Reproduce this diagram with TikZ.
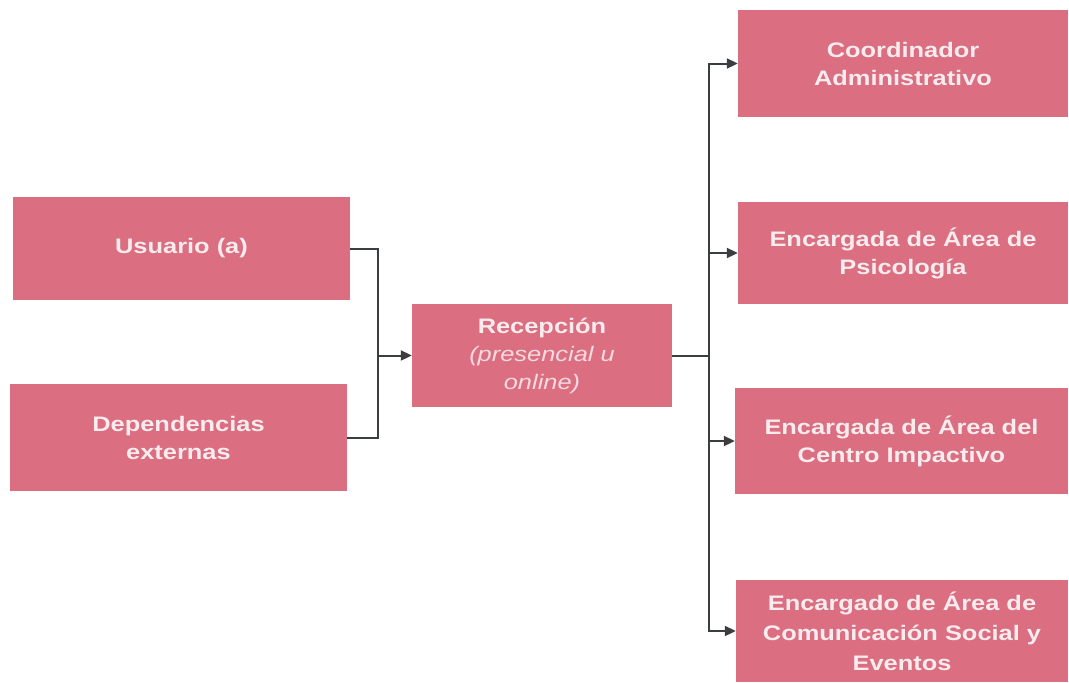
\documentclass[tikz,border=0pt]{standalone}
\usepackage{fontspec}
\usetikzlibrary{arrows.meta}
\newfontfamily\boxfont[FakeStretch=1.21]{Liberation Sans}
\definecolor{boxpink}{RGB}{219,110,128}
\definecolor{boxtext}{RGB}{248,236,238}
\definecolor{subtext}{RGB}{246,218,224}
\definecolor{linegray}{RGB}{58,62,64}
\newcommand{\mysubline}[1]{\textcolor{subtext}{\mdseries\itshape #1}}
\tikzset{
  pinkbox/.style={fill=boxpink, draw=none, inner sep=0pt, align=center,
    text=boxtext, font=\boxfont\bfseries\fontsize{21}{28}\selectfont},
  conn/.style={draw=linegray, line width=2pt},
  arr/.style={conn, -{Triangle[length=11pt,width=10pt]}}
}
\begin{document}
\begin{tikzpicture}[x=1pt,y=-1pt]
\useasboundingbox[fill=white] (0,0) rectangle (1069,683);
\node[pinkbox, minimum width=337pt, minimum height=103pt] (usu) at (181.5,248.5) {Usuario (a)};
\node[pinkbox, minimum width=337pt, minimum height=107pt] (dep) at (178.5,437.5) {Dependencias\\externas};
\node[pinkbox, minimum width=260pt, minimum height=103pt] (rec) at (542,355.5) {Recepción\\\mysubline{(presencial u}\\\mysubline{online)}};
\node[pinkbox, minimum width=330pt, minimum height=107pt] (coo) at (903,63.5) {Coordinador\\Administrativo};
\node[pinkbox, minimum width=330pt, minimum height=102pt] (psi) at (903,253) {Encargada de Área de\\Psicología};
\node[pinkbox, minimum width=333pt, minimum height=106pt] (cen) at (901.5,441) {Encargada de Área del\\Centro Impactivo};
\node[pinkbox, minimum width=332pt, minimum height=102pt, font=\boxfont\bfseries\fontsize{21}{30}\selectfont] (com) at (902,631) {Encargado de Área de\\Comunicación Social y\\Eventos};
\coordinate (j1) at (378,355.5);
\coordinate (j2) at (709,355.5);
\draw[conn] (usu.east) -| (j1);
\draw[conn] (dep.east) -| (j1);
\draw[arr] (j1) -- (rec.west);
\draw[conn] (rec.east) -- (j2);
\draw[arr] (j2) |- (coo.west);
\draw[arr] (j2) |- (psi.west);
\draw[arr] (j2) |- (cen.west);
\draw[arr] (j2) |- (com.west);
\end{tikzpicture}
\end{document}
